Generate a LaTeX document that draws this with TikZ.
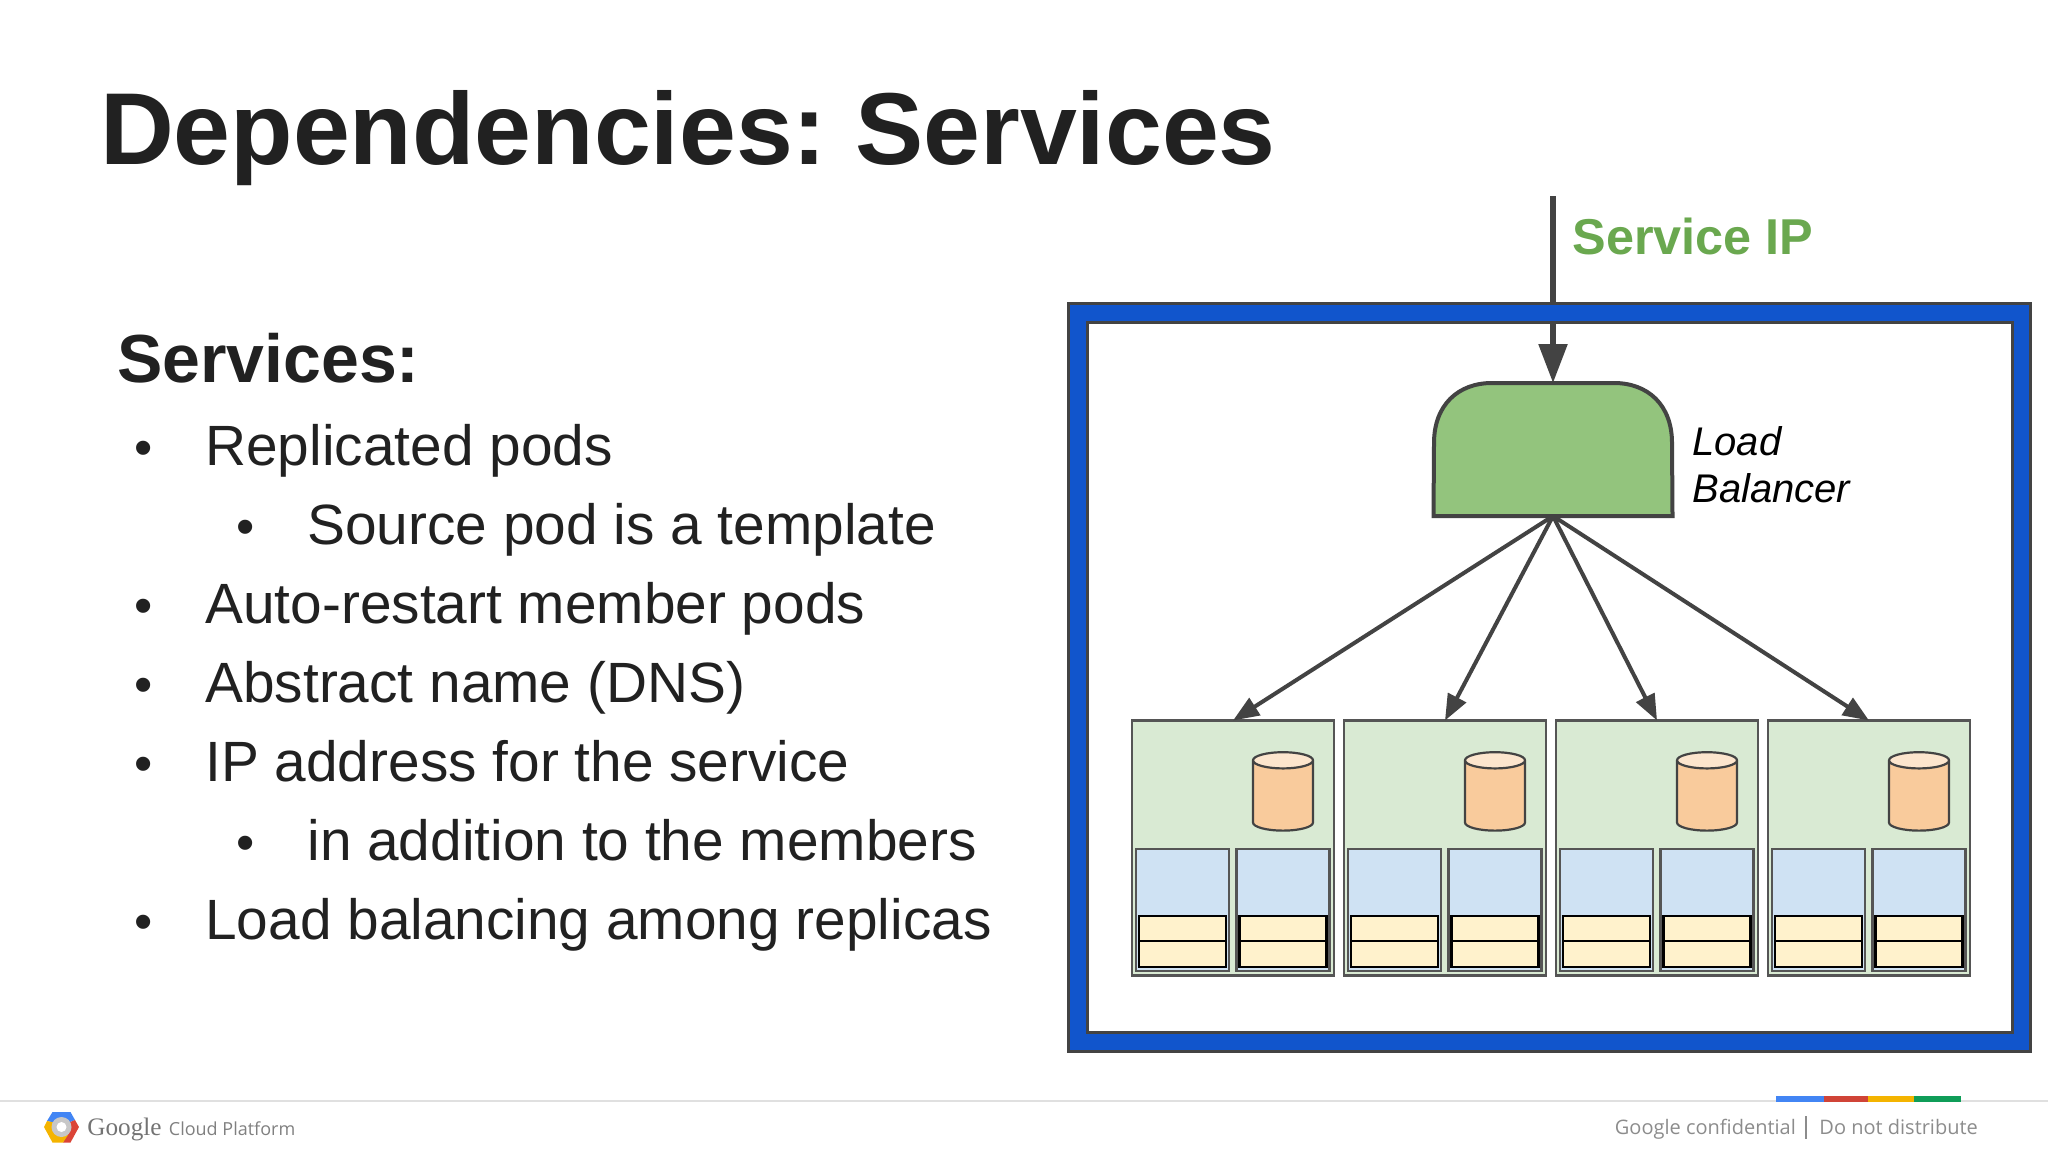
\documentclass[tikz,border=0pt]{standalone}
\usepackage{fontspec}
\setmainfont{Liberation Sans}
\newfontfamily\opensans{Open Sans}
\newfontfamily\logoserif{Liberation Serif}
\usetikzlibrary{arrows.meta,shapes.geometric}
\definecolor{inkdark}{HTML}{212121}
\definecolor{linedark}{HTML}{434343}
\definecolor{podline}{HTML}{555555}
\definecolor{ipgreen}{HTML}{6AA84F}
\definecolor{lbgreen}{HTML}{93C47D}
\definecolor{podgreen}{HTML}{D9EAD3}
\definecolor{ctrblue}{HTML}{CFE2F3}
\definecolor{volyellow}{HTML}{FFF2CC}
\definecolor{dbbody}{HTML}{F9CB9C}
\definecolor{dbtop}{HTML}{FCE5CD}
\definecolor{framblue}{HTML}{1155CC}
\frenchspacing
\begin{document}
\begin{tikzpicture}[x=0.5pt,y=-0.5pt]
		\tikzset{title/.style = {anchor=base west, text=inkdark, font=\fontsize{51.1}{51}\selectfont\bfseries}}
		\tikzset{head/.style = {anchor=base west, text=inkdark, font=\fontsize{34}{34}\selectfont\bfseries}}
		\tikzset{item/.style = {anchor=base west, text=inkdark, inner sep=0, font=\fontsize{28.4}{30}\selectfont}}
		\tikzset{dot/.style = {anchor=base, text=inkdark, inner sep=0, font=\fontsize{26}{30}\selectfont}}
		\tikzset{frame/.style = {draw=linedark, line width=1.5pt, inner sep=0, outer sep=0}}
		\tikzset{pod/.style = {draw=podline, fill=podgreen, line width=1.25pt, inner sep=0, outer sep=0, minimum width=101pt, minimum height=127.5pt}}
		\tikzset{ctr/.style = {draw=podline, fill=ctrblue, line width=1.25pt, inner sep=0, minimum width=46.5pt, minimum height=61pt}}
		\tikzset{vol/.style = {draw=black, fill=volyellow, line width=1.1pt, inner sep=0, minimum width=43.5pt, minimum height=12.75pt}}
		\tikzset{db/.style = {draw=linedark, line width=1.1pt, inner sep=0, cylinder, shape border rotate=90, aspect=0.27, text width=30pt, text height=26.5pt, text depth=0pt, cylinder uses custom fill, cylinder body fill=dbbody, cylinder end fill=dbtop}}
		\tikzset{edge/.style = {draw=linedark, line width=2pt, -{Triangle[length=13pt,width=10pt]}}}
		\tikzset{foot/.style = {anchor=base west, inner sep=0, text=black!45, font=\opensans\fontsize{10}{12}\selectfont}}
		
		\useasboundingbox (0,0) rectangle (2048,1152);
		
		\node[title] at (93,164) {Dependencies: Services};
		\node[head] at (110,382.5) {Services:};
		
		\node[dot]  (d1) at (143.5,465) {•};
		\node[item] (t1) at (205,465) {Replicated pods};
		\node[dot]  (d2) at (245.5,544) {•};
		\node[item] (t2) at (307,544) {Source pod is a template};
		\node[dot]  (d3) at (143.5,623) {•};
		\node[item] (t3) at (205,623) {Auto-restart member pods};
		\node[dot]  (d4) at (143.5,702) {•};
		\node[item] (t4) at (205,702) {Abstract name (DNS)};
		\node[dot]  (d5) at (143.5,781) {•};
		\node[item] (t5) at (205,781) {IP address for the service};
		\node[dot]  (d6) at (245.5,860) {•};
		\node[item] (t6) at (307,860) {in addition to the members};
		\node[dot]  (d7) at (143.5,939) {•};
		\node[item] (t7) at (205,939) {Load balancing among replicas};
		
		\coordinate (ip) at (1553,196);
		\node[frame, fill=framblue, minimum width=481pt, minimum height=374pt] (outer) at (1549,677) {};
		\node[frame, fill=white, minimum width=462.5pt, minimum height=355pt] (inner) at (1549.5,677) {};
		\node[anchor=base west, inner sep=0, text=ipgreen, font=\fontsize{25.2}{26}\selectfont\bfseries] (iplabel) at (1572,254) {Service IP};
		
		\node[minimum width=119.5pt, minimum height=66.5pt, inner sep=0, outer sep=0] (lb) at (1553,449.5) {};
		\draw[draw=linedark, fill=lbgreen, line width=2pt] (lb.south west) -- (1434,443) .. controls (1434,405) and (1458,383) .. (1492,383) -- (1614,383) .. controls (1648,383) and (1672,405) .. (1672,443) -- (lb.south east) -- cycle;
		\node[anchor=base west, inner sep=0, align=left, font=\fontsize{20}{23.5}\selectfont\itshape] (lblabel) at (1692,502) {Load\\Balancer};
		
		\node[pod] (1) at (1233,848) {};
		\node[pod] (2) at (1445,848) {};
		\node[pod] (3) at (1657,848) {};
		\node[pod] (4) at (1869,848) {};
		
		\node[db] (11) at (1283,796) {};
		\node[db] (21) at (1495,796) {};
		\node[db] (31) at (1707,796) {};
		\node[db] (41) at (1919,796) {};
		
		\node[ctr] (12) at (1182.5,910) {};
		\node[ctr] (13) at (1283,910) {};
		\node[ctr] (22) at (1394.5,910) {};
		\node[ctr] (23) at (1495,910) {};
		\node[ctr] (32) at (1606.5,910) {};
		\node[ctr] (33) at (1707,910) {};
		\node[ctr] (42) at (1818.5,910) {};
		\node[ctr] (43) at (1919,910) {};
		
		\node[vol] (121) at (1182.5,928.5) {};
		\node[vol] (122) at (1182.5,954) {};
		\node[vol] (131) at (1283,928.5) {};
		\node[vol] (132) at (1283,954) {};
		\node[vol] (221) at (1394.5,928.5) {};
		\node[vol] (222) at (1394.5,954) {};
		\node[vol] (231) at (1495,928.5) {};
		\node[vol] (232) at (1495,954) {};
		\node[vol] (321) at (1606.5,928.5) {};
		\node[vol] (322) at (1606.5,954) {};
		\node[vol] (331) at (1707,928.5) {};
		\node[vol] (332) at (1707,954) {};
		\node[vol] (421) at (1818.5,928.5) {};
		\node[vol] (422) at (1818.5,954) {};
		\node[vol] (431) at (1919,928.5) {};
		\node[vol] (432) at (1919,954) {};
		
		\draw[draw=linedark, line width=2.75pt] (ip) to (ip |- outer.north);
		\draw[edge, line width=2.75pt, -{Triangle[length=19.5pt,width=14pt]}] (ip |- inner.north) to (lb.north);
		\draw[edge] (lb.south) to (1.north);
		\draw[edge] (lb.south) to (2.north);
		\draw[edge] (lb.south) to (3.north);
		\draw[edge] (lb.south) to (4.north);
		
		% footer
		\coordinate (rulea) at (0,1100.5);
		\coordinate (ruleb) at (2048,1100.5);
		\draw[black!12, line width=1pt] (rulea) to (ruleb);
		\fill[fill={rgb,255:red,66;green,133;blue,244}] (47,1121) -- (52.5,1112) -- (70.5,1112) -- (75,1120) -- (68,1123) -- (56,1123) -- cycle;
		\fill[fill={rgb,255:red,219;green,68;blue,55}] (75,1120) -- (79,1127) -- (70.5,1142.5) -- (63,1142.5) -- (68,1131) -- (68,1123) -- cycle;
		\fill[fill={rgb,255:red,244;green,180;blue,0}] (47,1121) -- (44,1127) -- (52.5,1142.5) -- (63,1142.5) -- (68,1135) -- (56,1131) -- (56,1123) -- cycle;
		\fill[fill=black!22] (61.5,1127) circle (5pt);
		\fill[fill=white] (61.5,1127) circle (2.5pt);
		\node[anchor=base west, inner sep=0, text=black!55, font=\logoserif\fontsize{12.6}{13}\selectfont] (google) at (87,1135) {Google};
		\node[foot, text=black!50, font=\opensans\fontsize{9}{11}\selectfont] (cloud) at (168.5,1135) {Cloud Platform};
		\fill[fill={rgb,255:red,66;green,133;blue,244}] (1776,1095.5) rectangle (1823.5,1101.5);
		\fill[fill={rgb,255:red,208;green,68;blue,55}] (1823.5,1095.5) rectangle (1868,1101.5);
		\fill[fill={rgb,255:red,244;green,180;blue,0}] (1868,1095.5) rectangle (1914,1101.5);
		\fill[fill={rgb,255:red,15;green,157;blue,88}] (1914,1095.5) rectangle (1960.5,1101.5);
		\node[foot] (conf) at (1614.5,1134) {Google confidential};
		\node[foot] (dist) at (1819,1134) {Do not distribute};
		\coordinate (bara) at (1806,1116);
		\coordinate (barb) at (1806,1139);
		\draw[black!45, line width=0.75pt] (bara) to (barb);
\end{tikzpicture}
\end{document}
